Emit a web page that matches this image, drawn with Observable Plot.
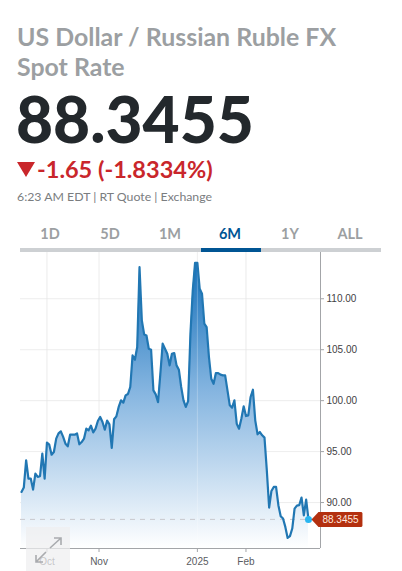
<!DOCTYPE html>
<html>
<head>
<meta charset="utf-8">
<script src="https://cdn.jsdelivr.net/npm/d3@7"></script>
<script src="https://cdn.jsdelivr.net/npm/@observablehq/plot@0.6"></script>
<style>
html,body{margin:0;padding:0;background:#fff;width:402px;height:571px;overflow:hidden;font-family:Lato,sans-serif}
#page{position:relative;width:402px;height:571px}
.t{position:absolute;white-space:nowrap}
#title{left:17px;top:21px;font-size:24.9px;line-height:30px;font-weight:700;color:#9c9fa2;white-space:normal;width:360px}
#price{left:16px;top:90px;font-size:64px;line-height:58px;font-weight:900;color:#23282c}
#tri{position:absolute;left:17px;top:162px;width:0;height:0;border-left:9px solid transparent;border-right:9px solid transparent;border-top:15px solid #c9262b}
#change{left:37px;top:154px;font-size:23.5px;line-height:30px;font-weight:700;color:#c9262b}
#meta{left:17px;top:189px;font-size:12.3px;line-height:16px;color:#7a7d80}
#tabs{position:absolute;left:20px;top:225px;width:361px;display:flex}
#tabs div{width:60px;text-align:center;font-size:14.5px;line-height:18px;font-weight:700;color:#9c9fa2}
#tabs div.on{color:#005594}
#bar{position:absolute;left:20px;top:248px;width:361px;height:4px;background:#cdd0d3}
#barOn{position:absolute;left:201px;top:248px;width:60px;height:4px;background:#005594}
#chart{position:absolute;left:0;top:252px}
#expand{position:absolute;left:26px;top:527px;width:44px;height:44px;background:rgba(238,238,240,.72)}
</style>
</head>
<body>
<div id="page">
  <div class="t" id="title">US Dollar / Russian Ruble FX Spot Rate</div>
  <div class="t" id="price">88.3455</div>
  <div id="tri"></div>
  <div class="t" id="change">-1.65 (-1.8334%)</div>
  <div class="t" id="meta">6:23 AM EDT | RT Quote | Exchange</div>
  <div id="tabs"></div>
  <div id="bar"></div><div id="barOn"></div>
  <div id="chart"></div>
  <div id="expand">
    <svg width="44" height="44" fill="none" stroke="#a9abae" stroke-width="1.6">
      <path d="M24 21 L35 11 M28 11 H35 V18"/>
      <path d="M20 25 L10 35 M10 28 V35 H17"/>
    </svg>
  </div>
</div>
<script>
const tabLabels = ["1D","5D","1M","6M","1Y","ALL"];
const activeTab = "6M";
const rates = [91.04,91.47,94.15,92.35,92.35,91.27,92.84,92.51,92.58,94.80,92.35,95.88,95.68,94.70,94.96,96.27,96.79,96.99,96.44,95.78,95.52,96.66,96.66,96.66,96.79,95.72,95.94,96.27,97.25,97.09,97.55,96.89,97.25,98.00,98.40,97.91,97.15,98.04,97.68,95.36,98.17,98.46,99.38,100.03,99.80,100.52,100.65,101.34,104.44,104.02,105.26,113.10,107.87,106.50,106.40,105.10,105.00,101.01,100.62,99.86,102.64,105.60,105.10,104.60,103.46,104.60,104.67,103.46,103.04,101.34,100.03,99.38,99.96,106.57,110.81,113.52,113.52,110.98,110.49,107.55,107.22,104.28,102.15,101.66,102.71,102.71,102.55,102.48,102.48,101.01,99.54,99.31,100.03,97.74,97.25,98.23,99.44,98.49,98.56,100.36,101.07,98.07,96.70,96.92,96.60,96.37,93.17,89.51,91.14,91.53,91.53,89.74,88.66,88.43,87.61,86.53,86.70,87.45,89.41,89.70,89.74,90.49,88.75,90.29,88.3455];
const yTicks = [90,95,100,105,110];
const xTickSessions = [11,33.5,76,97];
const xTickLabels = ["Oct","Nov","2025","Feb"];
const lastRate = 88.3455;
const lastLabel = "88.3455";
const yDomain = [85.49,114.54];
const xDomain = [-0.43,129.2];

const tabs = document.getElementById("tabs");
for (const l of tabLabels) {
  const d = document.createElement("div");
  d.textContent = l;
  if (l === activeTab) d.className = "on";
  tabs.appendChild(d);
}

const data = rates.map((rate, session) => ({session, rate}));
const last = data[data.length - 1];
const labelBy = new Map(xTickSessions.map((s, i) => [s, xTickLabels[i]]));

const gradient = () => {
  const ns = "http://www.w3.org/2000/svg";
  const defs = document.createElementNS(ns, "defs");
  const g = document.createElementNS(ns, "linearGradient");
  g.setAttribute("id", "fx-grad");
  g.setAttribute("x1", 0); g.setAttribute("x2", 0);
  g.setAttribute("y1", 0); g.setAttribute("y2", 1);
  for (const [o, c] of [[0, "#1570ba"], [0.45, "#85b5e0"], [1, "#ffffff"]]) {
    const s = document.createElementNS(ns, "stop");
    s.setAttribute("offset", o); s.setAttribute("stop-color", c);
    g.appendChild(s);
  }
  defs.appendChild(g);
  return defs;
};

const tagSymbol = {
  draw(ctx) {
    ctx.moveTo(3, 0);
    ctx.lineTo(10, -7.5);
    ctx.lineTo(53, -7.5);
    ctx.lineTo(54, -6.5);
    ctx.lineTo(54, 6.5);
    ctx.lineTo(53, 7.5);
    ctx.lineTo(10, 7.5);
    ctx.closePath();
  }
};

const plot = Plot.plot({
  width: 402,
  height: 319,
  marginLeft: 20,
  marginRight: 82,
  marginTop: 0,
  marginBottom: 23,
  style: {background: "transparent", overflow: "visible"},
  x: {type: "linear", domain: xDomain},
  y: {domain: yDomain},
  marks: [
    gradient,
    Plot.gridY(yTicks, {stroke: "#e9e9e9", strokeOpacity: 0.8}),
    Plot.gridX(xTickSessions, {stroke: "#e6e6e6", strokeOpacity: 0.8}),
    Plot.areaY(data, {x: "session", y1: yDomain[0], y2: "rate", fill: "url(#fx-grad)"}),
    Plot.gridX(xTickSessions.slice(2, 3), {stroke: "#ffffff", strokeOpacity: 0.25}),
    Plot.ruleY([lastRate], {stroke: "#c9c9cd", strokeDasharray: "5,5"}),
    Plot.line(data, {x: "session", y: "rate", stroke: "#2177b3", strokeWidth: 2.2, strokeLinejoin: "round"}),
    Plot.dot([last], {x: "session", y: "rate", r: 3.5, fill: "#29b5f0"}),
    Plot.ruleX([xDomain[1]], {stroke: "#a3a5a8"}),
    Plot.ruleY([yDomain[0]], {stroke: "#a3a5a8"}),
    Plot.axisY({anchor: "right", ticks: yTicks, tickFormat: d => d.toFixed(2), tickSize: 3, tickPadding: 3, label: null,
      fontSize: 10, fontFamily: "'Liberation Sans',Arial,sans-serif", color: "#3f4144", stroke: "#a3a5a8"}),
    Plot.axisX({ticks: xTickSessions, tickFormat: d => labelBy.get(d), tickSize: 4, tickPadding: 5, label: null,
      fontSize: 10, fontFamily: "'Liberation Sans',Arial,sans-serif", color: "#5a5c5f", stroke: "#a3a5a8"}),
    Plot.dot([last], {x: "session", y: "rate", symbol: tagSymbol, fill: "#b3300f", stroke: "none"}),
    Plot.text([last], {x: "session", y: "rate", text: () => lastLabel, dx: 14, textAnchor: "start", fill: "#ffe9df",
      fontSize: 10, fontFamily: "'Liberation Sans',Arial,sans-serif"})
  ]
});
document.getElementById("chart").appendChild(plot);
</script>
</body>
</html>
